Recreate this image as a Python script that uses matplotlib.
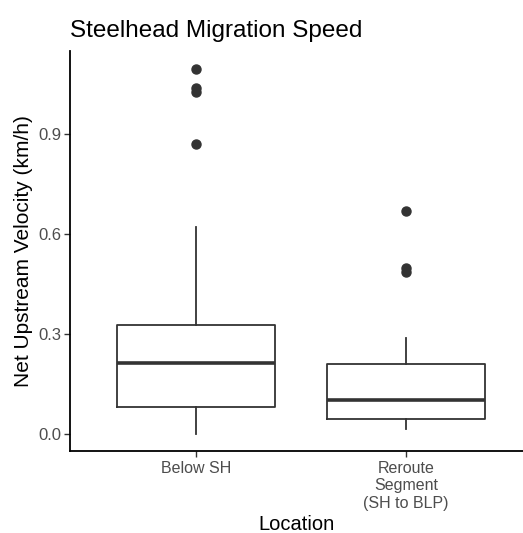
import matplotlib.pyplot as plt

# Box statistics (km/h)
locations = ["Below SH", "Reroute\nSegment\n(SH to BLP)"]
q1 = [0.080, 0.044]
median = [0.214, 0.101]
q3 = [0.328, 0.210]
whisker_low = [0.0, 0.014]
whisker_high = [0.621, 0.289]
outliers = [[1.094, 1.036, 1.026, 0.868], [0.668, 0.497, 0.485]]

stats = []
for i in range(len(locations)):
    stats.append({"q1": q1[i], "med": median[i], "q3": q3[i],
                  "whislo": whisker_low[i], "whishi": whisker_high[i],
                  "fliers": outliers[i], "label": locations[i]})

plt.rcParams['font.family'] = ['Liberation Sans', 'DejaVu Sans']
fig = plt.figure(figsize=(5.23, 5.33), dpi=100)
ax = fig.add_axes([70/523, 82/533, 453/523, 400/533])

dark = "#333333"
ax.bxp(stats, positions=[1, 2], widths=0.75, showfliers=True,
       boxprops=dict(color=dark, linewidth=1.3),
       whiskerprops=dict(color=dark, linewidth=1.3),
       capprops=dict(linewidth=0),
       medianprops=dict(color=dark, linewidth=2.6, solid_capstyle='butt'),
       flierprops=dict(marker='o', markerfacecolor=dark, markeredgecolor=dark,
                       markersize=6.5))

ax.set_xlim(0.4, 0.4 + 453/210)
ax.set_ylim(-0.051, 1.148)
ax.set_yticks([0.0, 0.3, 0.6, 0.9])
ax.set_yticklabels(["0.0", "0.3", "0.6", "0.9"])

for side in ["top", "right"]:
    ax.spines[side].set_visible(False)
for side in ["left", "bottom"]:
    ax.spines[side].set_color("black")
    ax.spines[side].set_linewidth(1.3)

ax.tick_params(axis='both', colors=dark, length=4, width=1.0, pad=2,
               labelcolor="#4D4D4D", labelsize=12)
ax.tick_params(axis='x', pad=3, labelsize=11.5)

ax.set_xlabel("Location", fontsize=14.5, labelpad=3)
ax.set_ylabel("Net Upstream Velocity (km/h)", fontsize=15, labelpad=4)
ax.set_title("Steelhead Migration Speed", fontsize=17.5, loc='left', pad=10)
# the title sits at the left edge of the panel in the reference
ax.title.set_position((0.003, 1.0))

fig.savefig("out.png", dpi=100)
